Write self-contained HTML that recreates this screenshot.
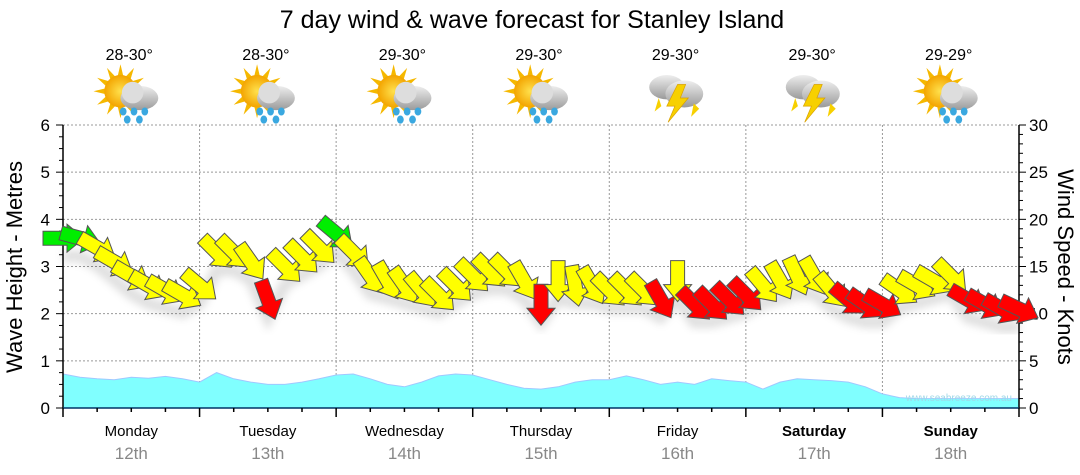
<!DOCTYPE html>
<html><head><meta charset="utf-8">
<style>
html,body{margin:0;padding:0;background:#fff;}
svg{display:block;font-family:"Liberation Sans","DejaVu Sans",sans-serif;}
</style></head>
<body>
<svg id="chart" width="1080" height="475" viewBox="0 0 1080 475">
<defs>
<radialGradient id="sunG" cx="50%" cy="50%" r="50%"><stop offset="0" stop-color="#ffe14d"/><stop offset="1" stop-color="#f3a400"/></radialGradient>
<linearGradient id="cloudG" x1="0" y1="0" x2="0" y2="1"><stop offset="0" stop-color="#eeeeee"/><stop offset="1" stop-color="#9a9a9a"/></linearGradient>
<filter id="blur"><feGaussianBlur stdDeviation="4"/></filter>
</defs>
<text x="532" y="28" text-anchor="middle" font-size="25" fill="#000">7 day wind &amp; wave forecast for Stanley Island</text>
<text transform="translate(22,267) rotate(-90)" text-anchor="middle" font-size="22" fill="#000">Wave Height - Metres</text>
<text transform="translate(1058,267) rotate(90)" text-anchor="middle" font-size="22" fill="#000">Wind Speed - Knots</text>
<g id="grid"></g>
<g id="wave"></g>
<g id="axes"></g>
<g id="header"></g>
<g id="arrows"></g>
<text x="1012" y="401" text-anchor="end" font-size="10" fill="#9fd8e8">www.seabreeze.com.au</text>
</svg>
<script>
const days = ["Monday","Tuesday","Wednesday","Thursday","Friday","Saturday","Sunday"];
const dates = ["12th","13th","14th","15th","16th","17th","18th"];
const temps = ["28-30°","28-30°","29-30°","29-30°","29-30°","29-30°","29-29°"];
const icons = ["shower","shower","shower","shower","storm","storm","shower"];
const leftTicks = [0,1,2,3,4,5,6];
const rightTicks = [0,5,10,15,20,25,30];
const windSpeed = [18,18,17,15.5,14,13,12.5,12, 13,16.5,16.5,15.5,11.5,15,16,17, 18.5,16.5,14,13.5,13,12.5,12,13, 14,14.5,14.5,13.5,11,13.5,13,13, 12.5,12.5,12.5,11.5,13.5,11,11,11.5, 12,13,13.5,14,14,12.5,11.5,11, 11,12.5,13,13.5,14,11.5,11,10.5,10.5];
const windDir = [0,15,30,30,30,30,30,30, 40,45,45,55,70,45,45,45, 40,45,55,60,55,50,45,45, 45,45,45,60,90,90,80,60, 45,45,45,60,90,45,45,45, 45,50,60,65,60,50,40,35, 30,35,30,30,45,30,30,30,25];
const windColor = ["g","g","y","y","y","y","y","y", "y","y","y","y","r","y","y","y", "g","y","y","y","y","y","y","y", "y","y","y","y","r","y","y","y", "y","y","y","r","y","r","r","r", "r","y","y","y","y","y","r","r", "r","y","y","y","y","r","r","r","r"];
const waveHeight = [0.72,0.65,0.62,0.6,0.65,0.63,0.67,0.62, 0.55,0.75,0.62,0.55,0.5,0.5,0.55,0.62, 0.7,0.72,0.62,0.5,0.45,0.55,0.68,0.72, 0.7,0.6,0.5,0.42,0.4,0.45,0.55,0.6, 0.6,0.68,0.6,0.5,0.55,0.5,0.62,0.58, 0.55,0.4,0.55,0.62,0.6,0.58,0.55,0.45, 0.3,0.22,0.2,0.2,0.2,0.2,0.2,0.2,0.2];

const NS="http://www.w3.org/2000/svg";
const X0=63, X1=1019, Y0=408, Y1=125;
const dayW=(X1-X0)/7;
function xStep(i){return X0+i*dayW/8;}
function yM(m){return Y0-(m/6)*(Y0-Y1);}
function yK(k){return Y0-(k/30)*(Y0-Y1);}
function mk(tag,attrs,parent){const e=document.createElementNS(NS,tag);for(const k in attrs)e.setAttribute(k,attrs[k]);parent.appendChild(e);return e;}

const grid=document.getElementById('grid');
leftTicks.forEach(t=>{ if(t>0){const l=mk('line',{x1:X0,x2:X1,y1:yM(t),y2:yM(t),stroke:'#999','stroke-dasharray':'2,2','stroke-width':1},grid);

}});
for(let d=1;d<7;d++){const l=mk('line',{x1:X0+d*dayW,x2:X0+d*dayW,y1:Y1,y2:Y0,stroke:'#999','stroke-dasharray':'2,2','stroke-width':1},grid);

}

const wave=document.getElementById('wave');
let d='M'+X0+','+Y0;
waveHeight.forEach((h,i)=>{d+=' L'+xStep(i).toFixed(1)+','+yM(h).toFixed(1);});
d+=' L'+X1+','+Y0+' Z';
const wp=mk('path',{d:d,fill:'#80ffff',stroke:'#a0c8ff','stroke-width':1},wave);



const axes=document.getElementById('axes');
mk('line',{x1:X0,x2:X0,y1:Y1,y2:Y0,stroke:'#000','stroke-width':1.5},axes);
mk('line',{x1:X1,x2:X1,y1:Y1,y2:Y0,stroke:'#000','stroke-width':1.5},axes);
mk('line',{x1:X0,x2:X1,y1:Y0,y2:Y0,stroke:'#003366','stroke-width':1.5},axes);
for(let m=0;m<=24;m++){const y=yM(m/4);mk('line',{x1:X0-(m%4?4:7),x2:X0,y1:y,y2:y,stroke:'#000'},axes);}
for(let k=0;k<=30;k++){const y=yK(k);mk('line',{x1:X1,x2:X1+(k%5?4:7),y1:y,y2:y,stroke:'#000'},axes);}
leftTicks.forEach(t=>{const e=mk('text',{x:X0-13,y:yM(t)+6,'text-anchor':'end','font-size':17},axes);e.textContent=t;

});
rightTicks.forEach(t=>{const e=mk('text',{x:X1+10,y:yK(t)+6,'font-size':17},axes);e.textContent=t;

});
for(let q=0;q<=28;q++){const x=X0+q*dayW/4;mk('line',{x1:x,x2:x,y1:Y0,y2:Y0+(q%4?4:9),stroke:'#000','stroke-width':1.5},axes);}
days.forEach((dn,i)=>{const cx=X0+i*dayW+dayW/2;
const a=mk('text',{x:cx,y:436,'text-anchor':'middle','font-size':15,'font-weight':(i>=5?'bold':'normal')},axes);a.textContent=dn;


const b=mk('text',{x:cx,y:459,'text-anchor':'middle','font-size':17,fill:'#888'},axes);b.textContent=dates[i];

});

const header=document.getElementById('header');
temps.forEach((t,i)=>{const cx=X0+i*dayW+dayW/2-2;
const e=mk('text',{x:cx,y:60,'text-anchor':'middle','font-size':16},header);e.textContent=t;


const g=mk('g',{transform:'translate('+(cx+2)+',98) scale(1.35)'},header);


if(icons[i]==='shower'){
  for(let r=0;r<12;r++){const an=r*30*Math.PI/180;mk('polygon',{points:[-8+Math.cos(an)*20,-5+Math.sin(an)*20, -8+Math.cos(an+0.2)*11,-5+Math.sin(an+0.2)*11, -8+Math.cos(an-0.2)*11,-5+Math.sin(an-0.2)*11].join(','),fill:'#f5b800'},g);}
  mk('circle',{cx:-8,cy:-5,r:12,fill:'url(#sunG)'},g);
  mk('ellipse',{cx:6,cy:0,rx:14,ry:9,fill:'url(#cloudG)'},g);
  mk('circle',{cx:1,cy:-4,r:8,fill:'#ddd'},g);
  [[-6,10],[2,10],[10,10],[-3,16],[6,16]].forEach(p=>mk('ellipse',{cx:p[0],cy:p[1],rx:2.5,ry:3,fill:'#3aa8e0'},g));
}else{
  mk('ellipse',{cx:-8,cy:-8,rx:13,ry:9,fill:'url(#cloudG)'},g);
  mk('ellipse',{cx:5,cy:-3,rx:14,ry:10,fill:'url(#cloudG)'},g);
  mk('polygon',{points:'0,-10 -8,6 -2,6 -7,18 8,0 2,0 6,-10',fill:'#f7d000',stroke:'#d9a000','stroke-width':0.5},g);
  mk('polygon',{points:'-14,0 -17,10 -12,6',fill:'#f7d000'},g);
  mk('polygon',{points:'12,4 10,14 16,8',fill:'#f7d000'},g);
}});

const arrowsG=document.getElementById('arrows');
const colMap={g:'#00ee00',y:'#ffff00',r:'#ff0000'};
const sh=mk('path',{d:'',fill:'none',stroke:'#000','stroke-opacity':0.12,'stroke-width':12,filter:'url(#blur)'},arrowsG);
let sd='';
windSpeed.forEach((s,i)=>{sd+=(i?' L':'M')+xStep(i).toFixed(1)+','+(yK(s)+18).toFixed(1);});
sh.setAttribute('d',sd);


windSpeed.forEach((s,i)=>{
  const x=xStep(i), y=yK(s);
  const p=mk('polygon',{points:'-20,-7 4,-7 4,-14 21,0 4,14 4,7 -20,7',fill:colMap[windColor[i]],stroke:'#555','stroke-width':1,transform:'translate('+x.toFixed(1)+','+y.toFixed(1)+') rotate('+windDir[i]+')'},arrowsG);
  
  
});
</script>
</body></html>
